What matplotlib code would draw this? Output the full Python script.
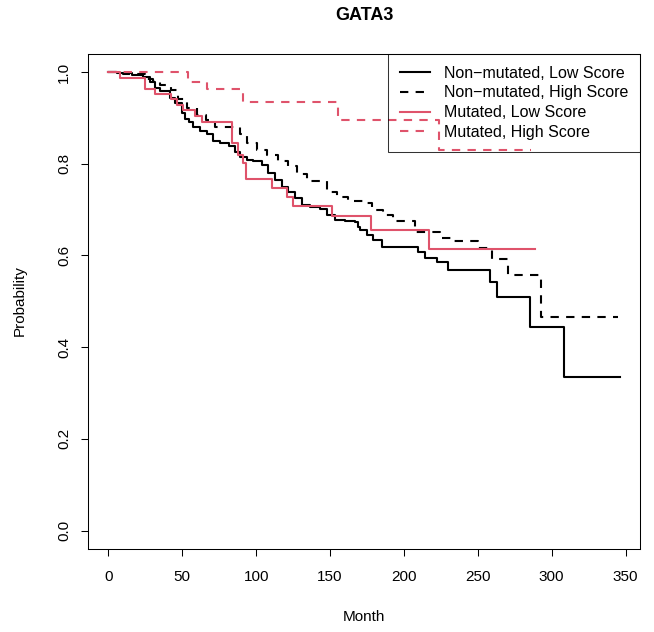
import matplotlib
matplotlib.use('Agg')
import matplotlib.pyplot as plt

plt.rcParams['font.family'] = ['Liberation Sans', 'DejaVu Sans']

RED = '#DF536B'

# Non-mutated, Low Score (event times in months, survival after each step)
nm_low_t = [6.1, 16, 23.4, 28.4, 31.8, 35.1, 41.9, 45.3, 49.8, 52.0, 54.3, 57.6,
            62.2, 66.7, 71.1, 75.7, 81.3, 85.8, 89.2, 93.7, 98.2, 103.9, 108.3,
            112.8, 117.4, 121.8, 126.4, 130.9, 136.5, 143.2, 147.8, 153.4, 160.1,
            166.9, 169.1, 170.3, 174.8, 179.3, 184.9, 209.7, 214.2, 222.1, 229.9,
            258.1, 263.0, 285.6, 308.3]
nm_low_s = [0.997, 0.993, 0.989, 0.978, 0.965, 0.958, 0.944, 0.933, 0.911, 0.897,
            0.890, 0.879, 0.871, 0.864, 0.850, 0.845, 0.839, 0.826, 0.815, 0.808,
            0.805, 0.797, 0.779, 0.765, 0.750, 0.739, 0.725, 0.710, 0.705, 0.701,
            0.688, 0.678, 0.674, 0.672, 0.663, 0.656, 0.645, 0.634, 0.619, 0.608,
            0.594, 0.585, 0.569, 0.541, 0.509, 0.445, 0.336]
nm_low_end = 346

# Non-mutated, High Score
nm_high_t = [10, 25, 30, 34.7, 42.4, 46.8, 53.2, 59.9, 66.2, 72.3, 89.2, 93.7,
             100.5, 107.2, 115.1, 121.8, 127.5, 134.3, 147.8, 154.5, 162.4, 172.5,
             178.2, 186.0, 192.8, 207.4, 224.3, 233.3, 250.2, 259.3, 270.5, 293.0]
nm_high_s = [0.995, 0.985, 0.980, 0.971, 0.961, 0.941, 0.922, 0.906, 0.895, 0.879,
             0.865, 0.845, 0.829, 0.819, 0.805, 0.794, 0.778, 0.763, 0.739, 0.727,
             0.719, 0.714, 0.698, 0.688, 0.676, 0.652, 0.638, 0.632, 0.616, 0.592,
             0.558, 0.466]
nm_high_end = 344.8

# Mutated, Low Score
mut_low_t = [7.6, 24.5, 31.3, 42.4, 46.4, 50.5, 58.8, 63.5, 83.8, 87.4, 91.0, 93.2,
             111.0, 120.7, 124.8, 151.6, 177.5, 216.7]
mut_low_s = [0.986, 0.963, 0.953, 0.942, 0.927, 0.917, 0.904, 0.890, 0.845, 0.819,
             0.801, 0.766, 0.747, 0.728, 0.708, 0.686, 0.656, 0.614]
mut_low_end = 289

# Mutated, High Score
mut_high_t = [53.8, 66.9, 91.0, 155.2, 223.6]
mut_high_s = [0.977, 0.962, 0.934, 0.895, 0.830]
mut_high_end = 286

series = [
    ("Non\u2212mutated, Low Score", nm_low_t, nm_low_s, nm_low_end, 'black', '-'),
    ("Non\u2212mutated, High Score", nm_high_t, nm_high_s, nm_high_end, 'black', (0, (4, 3.5))),
    ("Mutated, Low Score", mut_low_t, mut_low_s, mut_low_end, RED, '-'),
    ("Mutated, High Score", mut_high_t, mut_high_s, mut_high_end, RED, (0, (4, 3.5))),
]

fig = plt.figure(figsize=(6.54, 6.32), dpi=100)
ax = fig.add_axes([88 / 654, 1 - 549 / 632, (640 - 88) / 654, (549 - 53.6) / 632])

for label, t, s, end, color, ls in series:
    xs = [0] + t + [end]
    ys = [1.0] + s + [s[-1]]
    ax.step(xs, ys, where='post', color=color, linestyle=ls, lw=1.5, label=label)

ax.set_xlim(-13.8, 359.8)
ax.set_ylim(-0.04, 1.04)
ax.set_xticks(range(0, 351, 50))
ax.set_yticks([0, 0.2, 0.4, 0.6, 0.8, 1.0])
ax.set_yticklabels(['0.0', '0.2', '0.4', '0.6', '0.8', '1.0'], rotation=90, va='center')
ax.tick_params(axis='both', labelsize=11, length=5, width=0.75, direction='out')
ax.tick_params(axis='x', pad=10)
ax.tick_params(axis='y', pad=7)
for sp in ax.spines.values():
    sp.set_linewidth(0.75)

leg = ax.legend(loc='upper right', borderaxespad=0, fontsize=11.5, fancybox=False,
                edgecolor='black', handlelength=1.9, handletextpad=0.85,
                labelspacing=0.3, borderpad=0.75)
leg.get_frame().set_facecolor('none')
leg.get_frame().set_linewidth(0.75)

fig.text(364 / 654, 1 - 16 / 632, 'GATA3', ha='center', va='center',
         fontsize=13, fontweight='bold')
fig.text(364 / 654, 1 - 617 / 632, 'Month', ha='center', va='center', fontsize=11)
fig.text(20 / 654, 1 - 301 / 632, 'Probability', ha='center', va='center',
         rotation=90, fontsize=11)

fig.savefig('out.png', dpi=100)
